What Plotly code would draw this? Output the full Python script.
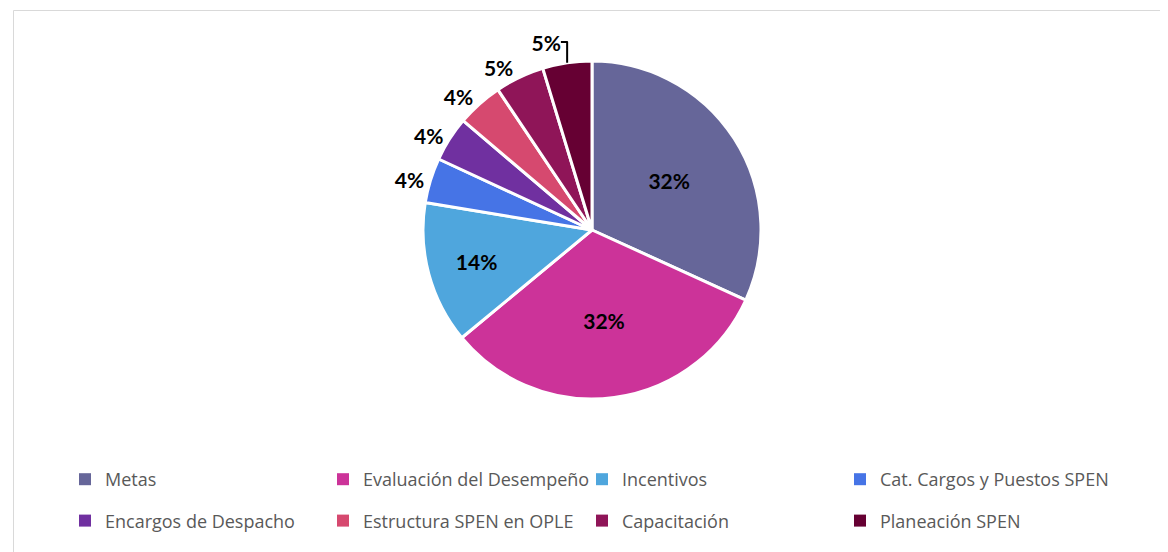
import plotly.graph_objects as go

categorias = ["Metas", "Evaluación del Desempeño", "Incentivos", "Cat. Cargos y Puestos SPEN",
              "Encargos de Despacho", "Estructura SPEN en OPLE", "Capacitación", "Planeación SPEN"]
valores = [31.8, 32.2, 13.6, 4.3, 4.3, 4.4, 4.7, 4.7]
colores = ["#666699", "#CC3399", "#4FA6DD", "#4674E6", "#7030A0", "#D6496F", "#8F1558", "#660033"]
posiciones = ["inside", "inside", "inside", "outside", "outside", "outside", "outside", "outside"]

W, H = 1168, 552

fig = go.Figure(go.Pie(
    labels=categorias,
    values=valores,
    sort=False,
    direction="clockwise",
    rotation=0,
    marker=dict(colors=colores, line=dict(color="white", width=3)),
    texttemplate="%{percent:.0%}",
    textposition=posiciones,
    insidetextorientation="horizontal",
    textfont=dict(family="Lato", size=21, color="black", weight="bold"),
    hoverinfo="label+percent",
    showlegend=False,
    domain=dict(x=[415 / W, 753 / W], y=[1 - 391 / H, 1 - 53 / H]),
))

# legend: 4 columns x 2 rows, one small vertical legend per column
legend_ids = ["legend", "legend2", "legend3", "legend4"]
for i, (cat, col) in enumerate(zip(categorias, colores)):
    fig.add_trace(go.Scatter(
        x=[None], y=[None], mode="markers", name=cat,
        marker=dict(symbol="square", size=9, color=col),
        legend=legend_ids[i % 4], legendgroup=cat,
    ))

leg = dict(
    orientation="v", xanchor="left", yanchor="top",
    y=1 - 453 / H, tracegroupgap=15,
    font=dict(family="Open Sans", size=18, color="#595959"),
    itemsizing="constant", bgcolor="rgba(0,0,0,0)",
)
col_x = [57, 315, 574, 832]

fig.update_layout(
    width=W, height=H,
    margin=dict(l=0, r=0, t=0, b=0),
    paper_bgcolor="white",
    plot_bgcolor="white",
    xaxis=dict(visible=False),
    yaxis=dict(visible=False),
    shapes=[dict(type="rect", xref="paper", yref="paper",
                 x0=5.5 / W, x1=1165.5 / W, y0=1 - 550.5 / H, y1=1 - 2.5 / H,
                 line=dict(color="#D9D9D9", width=1))],
)
for lid, x in zip(legend_ids, col_x):
    fig.update_layout({lid: dict(leg, x=x / W)})

fig.write_html("out.html")
